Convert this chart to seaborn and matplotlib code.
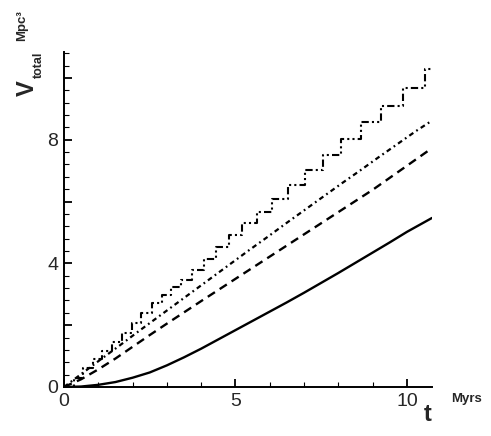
import numpy as np
import pandas as pd
import matplotlib
matplotlib.use("Agg")
import matplotlib.pyplot as plt
import seaborn as sns
from matplotlib.ticker import MultipleLocator, FixedLocator

# solid curve
t_solid = [0, 0.5, 1, 1.5, 2, 2.5, 3, 3.5, 4, 4.5, 5, 5.5, 6, 6.5, 7, 7.5, 8, 8.5, 9, 9.5, 10, 10.73]
v_solid = [0, 0.015, 0.07, 0.16, 0.30, 0.47, 0.70, 0.96, 1.24, 1.54, 1.84, 2.14, 2.44, 2.74, 3.05,
           3.37, 3.69, 4.02, 4.35, 4.68, 5.02, 5.47]

# dashed curve
t_dash = [0, 0.5, 1, 1.5, 2, 2.5, 3, 4, 5, 6, 7, 8, 9, 10, 10.73]
v_dash = [0, 0.25, 0.57, 0.92, 1.30, 1.68, 2.05, 2.78, 3.50, 4.22, 4.94, 5.66, 6.38, 7.16, 7.73]

# fine (dash-dot) curve
t_fine = [0, 0.54, 1.08, 1.62, 2.16, 2.70, 3.24, 3.78, 4.32, 4.86, 5.40, 5.94, 6.48, 7.02,
          7.56, 8.10, 8.64, 9.18, 9.72, 10.26, 10.73]
v_fine = [0, 0.45, 0.90, 1.34, 1.79, 2.23, 2.67, 3.11, 3.55, 3.99, 4.43, 4.86, 5.30, 5.73,
          6.16, 6.59, 7.01, 7.44, 7.86, 8.28, 8.62]

# coarse staircase (dash-dot-dot)
t_coarse = [0, 0.28, 0.56, 0.84, 1.12, 1.40, 1.68, 1.97, 2.26, 2.56, 2.86, 3.12, 3.40, 3.72, 4.08,
            4.42, 4.81, 5.18, 5.62, 6.06, 6.53, 7.03, 7.55, 8.08, 8.66, 9.24, 9.88, 10.52, 10.73]
v_coarse = [0, 0.30, 0.60, 0.89, 1.18, 1.47, 1.76, 2.06, 2.40, 2.71, 2.98, 3.22, 3.46, 3.79, 4.13,
            4.54, 4.92, 5.30, 5.65, 6.08, 6.54, 7.02, 7.51, 8.03, 8.57, 9.10, 9.69, 10.29, 10.29]

sns.set_theme(style="ticks")
plt.rcParams['font.family'] = ['Liberation Sans', 'DejaVu Sans']

fig = plt.figure(figsize=(4.91, 4.36), dpi=100)
ax = fig.add_axes([0.1303, 0.1124, 0.7495, 0.7683])

sns.lineplot(x=t_solid, y=v_solid, ax=ax, color='black', lw=1.7, estimator=None)
sns.lineplot(x=t_dash, y=v_dash, ax=ax, color='black', lw=1.7, estimator=None,
             linestyle=(0, (3.6, 2.4)))
sns.lineplot(x=t_fine, y=v_fine, ax=ax, color='black', lw=1.6, estimator=None,
             linestyle=(0, (2.2, 1.6, 0.8, 1.6)))
sns.lineplot(x=t_coarse, y=v_coarse, ax=ax, color='black', lw=1.5, estimator=None,
             drawstyle='steps-post', linestyle=(0, (3.5, 1.5, 1, 1.5, 1, 1.5)))

ax.set_xlim(0, 10.73)
ax.set_ylim(0, 10.84)
sns.despine(ax=ax)
for s in ['left', 'bottom']:
    ax.spines[s].set_linewidth(1.4)
    ax.spines[s].set_color('black')

ax.xaxis.set_major_locator(FixedLocator([0, 5, 10]))
ax.xaxis.set_minor_locator(MultipleLocator(1))
ax.yaxis.set_major_locator(MultipleLocator(2))
ax.yaxis.set_minor_locator(MultipleLocator(0.4))
ax.set_yticklabels(['0' if v == 0 else ('%d' % v if v % 4 == 0 else '') for v in ax.get_yticks()])
ax.tick_params(which='major', direction='in', length=6, width=1.3, labelsize=14, pad=4, color='black')
ax.tick_params(which='minor', direction='in', length=3.5, width=0.8, color='black')

# axis titles
fig.text(27 / 491, 1 - 88 / 436, 'V', rotation=90, fontsize=17, fontweight='bold',
         ha='center', va='center')
fig.text(39 / 491, 1 - 65 / 436, 'total', rotation=90, fontsize=9, fontweight='bold',
         ha='center', va='center')
fig.text(22 / 491, 1 - 26 / 436, 'Mpc³', rotation=90, fontsize=9.5, fontweight='bold',
         ha='center', va='center')
fig.text(427.5 / 491, 1 - 414 / 436, 't', fontsize=17, fontweight='bold',
         ha='center', va='center')
fig.text(466 / 491, 1 - 399 / 436, 'Myrs', fontsize=9.5, fontweight='bold',
         ha='center', va='center')

fig.savefig('out.png', dpi=100, facecolor='white')
